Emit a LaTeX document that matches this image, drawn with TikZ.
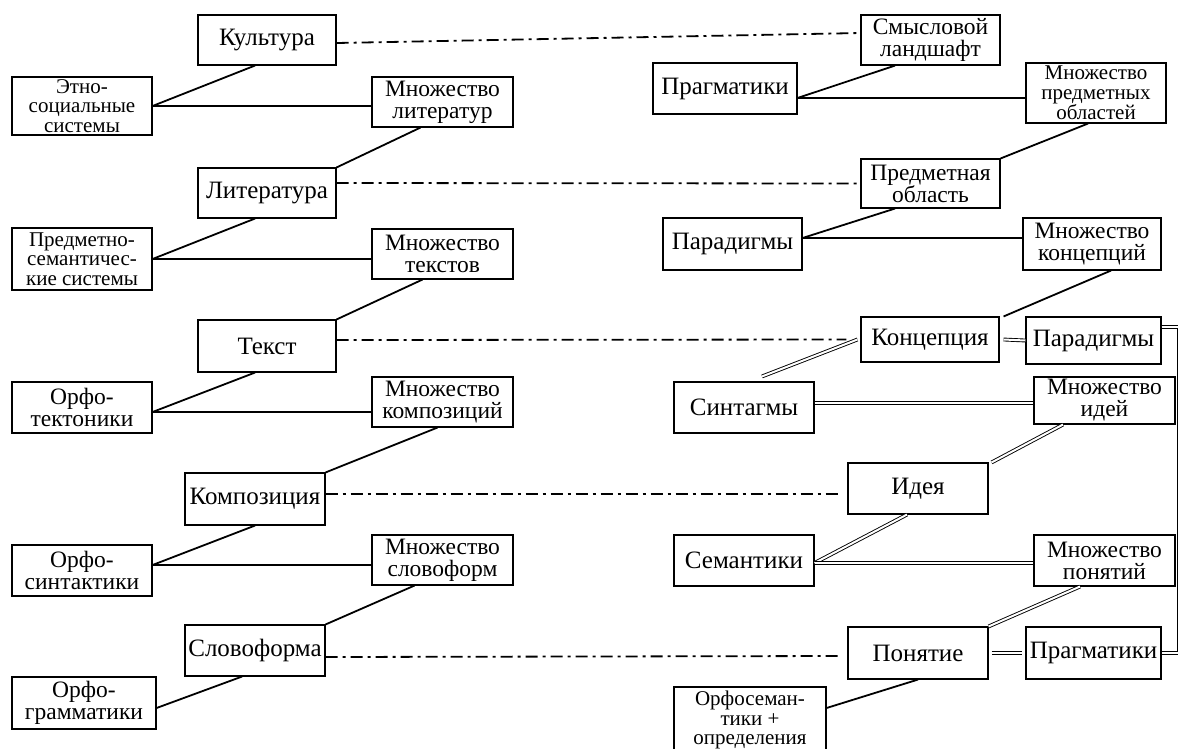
\documentclass[tikz,border=0pt]{standalone}
\usepackage{fontspec}
\setmainfont{Liberation Serif}
\newfontfamily\tnr{Liberation Serif}
\newcommand\fA{\tnr\fontsize{25}{23}\selectfont}
\newcommand\fC{\tnr\fontsize{23.5}{22}\selectfont}
\newcommand\fB{\tnr\fontsize{21}{19.5}\selectfont}
\begin{document}
\begin{tikzpicture}[x=1pt,y=-1pt,
 box/.style={draw, line width=1.1pt, inner sep=0pt, align=center, font=\fA},
 mbox/.style={box, font=\fC},
 sbox/.style={box, font=\fB},
 conn/.style={line width=1.8pt},
 dd/.style={line width=1.8pt, dash pattern=on 12pt off 5pt on 3pt off 5pt},
 dbl/.style={double, double distance=2pt, line width=0.9pt}]
\useasboundingbox (0,0) rectangle (1178,748);
\fill[white] (0,0) rectangle (1178,748);
\clip (0,0) rectangle (1178,748);
% left column
\node[box, minimum width=138pt, minimum height=50pt] (kult) at (267,40) {Культура};
\node[sbox, minimum width=140pt, minimum height=58pt] (etno) at (82,106) {Этно-\\социальные\\системы};
\node[mbox, minimum width=141pt, minimum height=50pt] (mlit) at (442.5,102) {Множество\\литератур};
\node[box, minimum width=138pt, minimum height=50pt] (lit) at (267,193) {Литература};
\node[sbox, minimum width=140pt, minimum height=62pt] (pred) at (82,259) {Предметно-\\семантичес-\\кие системы};
\node[mbox, minimum width=141pt, minimum height=50pt] (mtext) at (442.5,254) {Множество\\текстов};
\node[box, minimum width=138pt, minimum height=52pt] (text) at (267,346) {Текст};
\node[mbox, minimum width=140pt, minimum height=51pt] (ortek) at (82,407.5) {Орфо-\\тектоники};
\node[mbox, minimum width=141pt, minimum height=50pt] (mkomp) at (442.5,402) {Множество\\композиций};
\node[box, minimum width=140pt, minimum height=52pt] (komp) at (255,499) {Композиция};
\node[mbox, minimum width=140pt, minimum height=51pt] (orsin) at (82,570.5) {Орфо-\\синтактики};
\node[mbox, minimum width=141pt, minimum height=50pt] (mslov) at (442.5,560) {Множество\\словоформ};
\node[box, minimum width=140pt, minimum height=51pt] (slov) at (255,650.5) {Словоформа};
\node[mbox, minimum width=144pt, minimum height=52pt] (orgram) at (84,703) {Орфо-\\грамматики};
% right column
\node[mbox, minimum width=139pt, minimum height=50pt] (smysl) at (930.5,40) {Смысловой\\ландшафт};
\node[box, minimum width=144pt, minimum height=51pt] (prag) at (725,88.5) {Прагматики};
\node[sbox, minimum width=140pt, minimum height=60pt] (mpred) at (1096,93) {Множество\\предметных\\областей};
\node[mbox, minimum width=139pt, minimum height=49pt] (predobl) at (930.5,183.5) {Предметная\\область};
\node[box, minimum width=139pt, minimum height=52pt] (parad) at (732.5,244) {Парадигмы};
\node[mbox, minimum width=138pt, minimum height=52pt] (mkonc) at (1092,244) {Множество\\концепций};
\node[box, minimum width=138pt, minimum height=45pt] (konc) at (930,339.5) {Концепция};
\node[box, minimum width=135pt, minimum height=47pt] (parad2) at (1093.5,340.5) {Парадигмы};
\node[box, minimum width=140pt, minimum height=51pt] (sint) at (744,407.5) {Синтагмы};
\node[mbox, minimum width=141pt, minimum height=47pt] (midei) at (1104.5,400.5) {Множество\\идей};
\node[box, minimum width=140pt, minimum height=51pt] (ideya) at (918,488.5) {Идея};
\node[box, minimum width=140pt, minimum height=51pt] (sem) at (744,560.5) {Семантики};
\node[mbox, minimum width=141pt, minimum height=51pt] (mpon) at (1104.5,560.5) {Множество\\понятий};
\node[box, minimum width=140pt, minimum height=52pt] (pon) at (918,653) {Понятие};
\node[box, minimum width=135pt, minimum height=52pt] (prag2) at (1093.5,653) {Прагматики};
\node[sbox, minimum width=152pt, minimum height=66pt] (orfsem) at (750,720) {Орфосеман-\\тики +\\определения};
% left connectors
\draw[conn] ([xshift=-12pt]kult.south) -- (etno.east);
\draw[conn] (etno.east) -- (etno.east -| mlit.west);
\draw[conn] (lit.north east) -- ([xshift=-22pt]mlit.south);
\draw[conn] ([xshift=-12pt]lit.south) -- (pred.east);
\draw[conn] (pred.east) -- (pred.east -| mtext.west);
\draw[conn] (text.north east) -- ([xshift=-20pt]mtext.south);
\coordinate (o1) at ([yshift=-4.5pt]ortek.east);
\draw[conn] ([xshift=-12pt]text.south) -- (o1);
\draw[conn] (o1) -- (o1 -| mkomp.west);
\draw[conn] (komp.north east) -- ([xshift=-5pt]mkomp.south);
\coordinate (o2) at ([yshift=5.5pt]orsin.east);
\draw[conn] (komp.south) -- (o2);
\draw[conn] (o2) -- (o2 -| mslov.west);
\draw[conn] (slov.north east) -- ([xshift=-28pt]mslov.south);
\draw[conn] ([xshift=-13pt]slov.south) -- ([yshift=-5pt]orgram.east);
% dash-dot links
\draw[dd] ([yshift=-3pt]kult.east) -- ([yshift=7pt]smysl.west);
\draw[dd] ([yshift=10pt]lit.east) -- (predobl.west);
\draw[dd] ([yshift=6pt]text.east) -- ([xshift=-14pt]konc.west);
\draw[dd] ([yshift=5pt]komp.east) -- ([xshift=-8pt,yshift=-5.5pt]ideya.west);
\draw[dd] ([yshift=-6.5pt]slov.east) -- ([xshift=-8pt,yshift=-3pt]pon.west);
% right connectors
\coordinate (r1) at ([yshift=-9.5pt]prag.east);
\draw[conn] ([xshift=-35.5pt]smysl.south) -- (r1);
\draw[conn] (r1) -- (r1 -| mpred.west);
\draw[conn] (predobl.north east) -- ([xshift=-8pt]mpred.south);
\coordinate (r2) at ([yshift=6pt]parad.east);
\draw[conn] ([xshift=-35.5pt]predobl.south) -- (r2);
\draw[conn] (r2) -- (r2 -| mkonc.west);
\draw[conn] ([xshift=4pt]konc.north east) -- ([xshift=19pt]mkonc.south);
\draw[dbl] ([xshift=18pt,yshift=5pt]sint.north) -- ([xshift=-3pt]konc.west);
\draw[dbl] ([xshift=4pt]konc.east) -- (parad2.west);
\coordinate (edge) at (1179.3,490);
\draw[dbl] ([yshift=13.5pt]parad2.east) -| (edge) |- (prag2.east);
\coordinate (r3) at ([yshift=4.5pt]sint.east);
\draw[dbl] (r3) -- (r3 -| midei.west);
\draw[dbl] ([xshift=3pt]ideya.north east) -- ([xshift=-41.5pt]midei.south);
\coordinate (r4) at ([yshift=-2.5pt]sem.east);
\draw[dbl] ([xshift=-11pt]ideya.south) -- (r4);
\draw[dbl] (r4) -- (r4 -| mpon.west);
\draw[dbl] (pon.north east) -- ([xshift=-24.5pt]mpon.south);
\draw[dbl] ([xshift=3pt]pon.east) -- ([xshift=-3pt]prag2.west);
\draw[conn] (pon.south) -- ([yshift=12pt]orfsem.east);
\end{tikzpicture}
\end{document}
